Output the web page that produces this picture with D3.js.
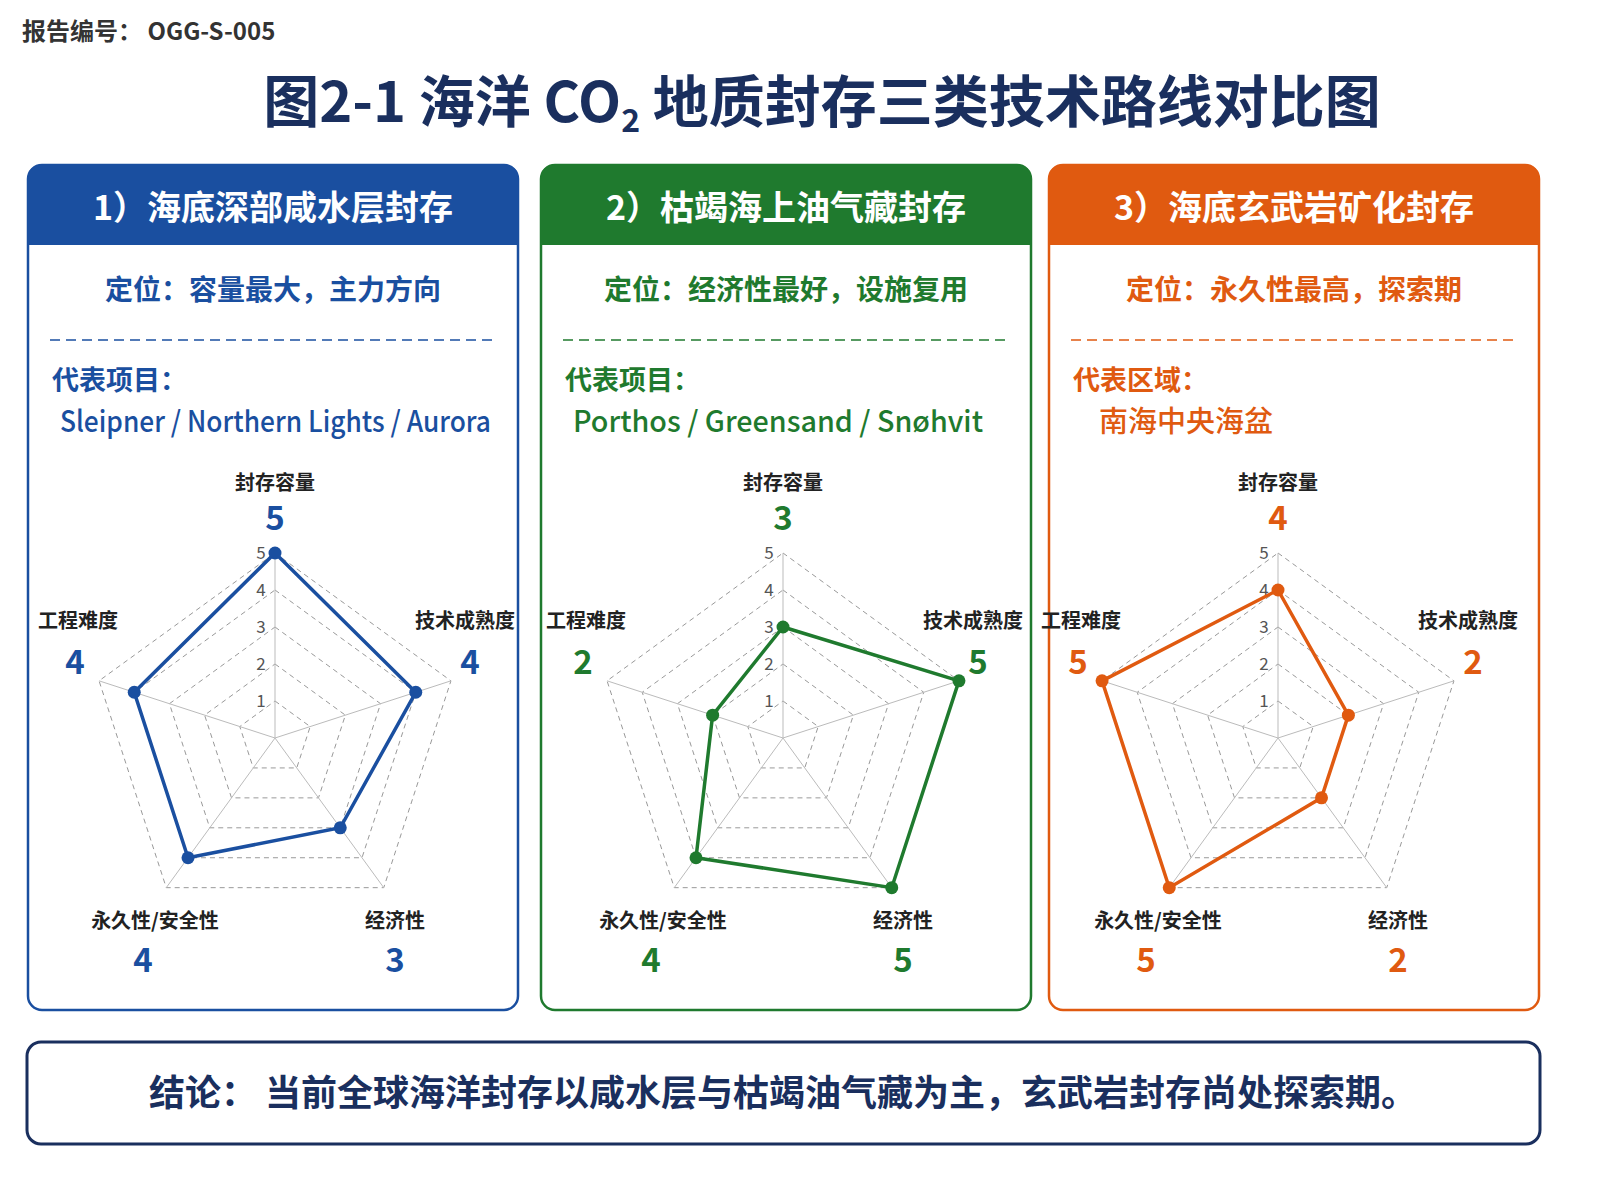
<!DOCTYPE html>
<html><head><meta charset="utf-8">
<script src="https://cdn.jsdelivr.net/npm/d3@7"></script>
<style>body{margin:0;background:#fff}text{font-family:"Noto Sans CJK SC","Noto Sans",sans-serif}</style>
</head><body>
<div id="chart"></div>
<script>
// Chart data
var axes = ["封存容量", "技术成熟度", "经济性", "永久性/安全性", "工程难度"];
var panelTitles = ["1）海底深部咸水层封存", "2）枯竭海上油气藏封存", "3）海底玄武岩矿化封存"];
var positioning = ["定位：容量最大，主力方向", "定位：经济性最好，设施复用", "定位：永久性最高，探索期"];
var repLabels = ["代表项目：", "代表项目：", "代表区域："];
var repItems = ["Sleipner / Northern Lights / Aurora", "Porthos / Greensand / Snøhvit", "南海中央海盆"];
var scores1 = [5, 4, 3, 4, 4];
var scores2 = [3, 5, 5, 4, 2];
var scores3 = [4, 2, 2, 5, 5];
var levels = [1, 2, 3, 4, 5];
var colors = ["#1a4fa0", "#1f7a2e", "#e05a10"];
var series = [scores1, scores2, scores3];

var svg = d3.select("#chart").append("svg").attr("width", 1600).attr("height", 1200);

svg.append("text").attr("x", 22).attr("y", 40).attr("font-size", 24).attr("font-weight", 700)
    .attr("fill", "#333").text("报告编号： OGG-S-005");

var title = svg.append("text").attr("x", 822).attr("y", 122).attr("text-anchor", "middle")
    .attr("font-size", 56).attr("font-weight", 700).attr("fill", "#1a2f5e");
title.append("tspan").text("图2-1 海洋 CO");
title.append("tspan").attr("font-size", 32).attr("dy", 10).text("2");
title.append("tspan").attr("dy", -10).text(" 地质封存三类技术路线对比图");

var panelX = [28, 541, 1049], panelW = 490;
var r = d3.scaleLinear().domain([0, 5]).range([0, 185]);
var angle = function(i) { return -Math.PI / 2 + i * 2 * Math.PI / 5; };
var line = d3.line();

panelX.forEach(function(px, p) {
    var c = colors[p];
    var g = svg.append("g").attr("transform", "translate(" + px + ",0)");
    g.append("rect").attr("x", 0).attr("y", 165).attr("width", panelW).attr("height", 845)
        .attr("rx", 14).attr("fill", "#fff").attr("stroke", c).attr("stroke-width", 2.5);
    g.append("path").attr("d", "M0,245 V179 Q0,165 14,165 H" + (panelW - 14) + " Q" + panelW + ",165 " + panelW + ",179 V245 Z")
        .attr("fill", c);
    g.append("text").attr("x", panelW / 2).attr("y", 220).attr("text-anchor", "middle")
        .attr("font-size", 34).attr("font-weight", 700).attr("fill", "#fff").text(panelTitles[p]);
    g.append("text").attr("x", panelW / 2).attr("y", 300).attr("text-anchor", "middle")
        .attr("font-size", 28).attr("font-weight", 700).attr("fill", c).text(positioning[p]);
    g.append("line").attr("x1", 22).attr("x2", panelW - 20).attr("y1", 340).attr("y2", 340)
        .attr("stroke", c).attr("stroke-width", 1.5).attr("stroke-dasharray", "10,6");
    g.append("text").attr("x", 24).attr("y", 390).attr("font-size", 27).attr("font-weight", 700)
        .attr("fill", c).text(repLabels[p]);
    var it = g.append("text").attr("x", p == 2 ? 50 : 32).attr("y", 432).attr("font-size", 29).attr("font-weight", 500)
        .attr("fill", c).text(repItems[p]);
    if (p < 2) it.attr("textLength", p == 0 ? 431 : 410).attr("lengthAdjust", "spacingAndGlyphs");

    var cx = [275, 783, 1278][p] - px, cy = 738;
    var rg = g.append("g").attr("transform", "translate(" + cx + "," + cy + ")");
    levels.forEach(function(l) {
        var pts = axes.map(function(a, i) { return [r(l) * Math.cos(angle(i)), r(l) * Math.sin(angle(i))]; });
        rg.append("path").attr("d", line(pts) + "Z").attr("fill", "none")
            .attr("stroke", "#999").attr("stroke-width", 1).attr("stroke-dasharray", "5,4");
        rg.append("text").attr("x", -14).attr("y", -r(l) + 6).attr("text-anchor", "middle")
            .attr("font-size", 17).attr("fill", "#555").text(l);
    });
    axes.forEach(function(a, i) {
        rg.append("line").attr("x1", 0).attr("y1", 0)
            .attr("x2", r(5) * Math.cos(angle(i))).attr("y2", r(5) * Math.sin(angle(i)))
            .attr("stroke", "#bbb").attr("stroke-width", 1);
    });
    var vals = series[p];
    var pts = vals.map(function(v, i) { return [r(v) * Math.cos(angle(i)), r(v) * Math.sin(angle(i))]; });
    rg.append("path").attr("d", line(pts) + "Z").attr("fill", "none").attr("stroke", c).attr("stroke-width", 3.5);
    pts.forEach(function(pt) {
        rg.append("circle").attr("cx", pt[0]).attr("cy", pt[1]).attr("r", 6.5).attr("fill", c);
    });
    // axis labels and scores
    var lab = [[0, -248, 0, -208], [190, -110, 195, -64], [120, 190, 120, 234], [-120, 190, -132, 234], [-197, -110, -200, -64]];
    axes.forEach(function(a, i) {
        rg.append("text").attr("x", lab[i][0]).attr("y", lab[i][1]).attr("text-anchor", "middle")
            .attr("font-size", 20).attr("font-weight", 700).attr("fill", "#222").text(a);
        rg.append("text").attr("x", lab[i][2]).attr("y", lab[i][3]).attr("text-anchor", "middle")
            .attr("font-size", 33).attr("font-weight", 700).attr("fill", c).text(vals[i]);
    });
});

svg.append("rect").attr("x", 27).attr("y", 1042).attr("width", 1513).attr("height", 102).attr("rx", 14)
    .attr("fill", "#fff").attr("stroke", "#1a2f5e").attr("stroke-width", 3);
svg.append("text").attr("x", 783).attr("y", 1106).attr("text-anchor", "middle").attr("font-size", 36)
    .attr("font-weight", 700).attr("fill", "#1a2f5e")
    .text("结论：  当前全球海洋封存以咸水层与枯竭油气藏为主，玄武岩封存尚处探索期。");
</script>
</body></html>
